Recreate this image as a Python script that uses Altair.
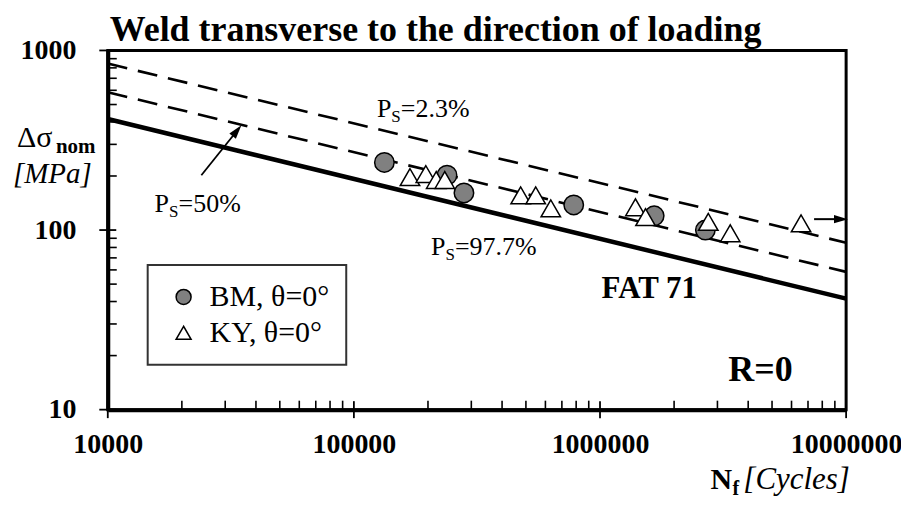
import altair as alt
import pandas as pd

FONT = "Liberation Serif"

# ---------------- data ----------------
series_names = ["BM, θ=0°", "KY, θ=0°"]
bm_n = [133000, 239000, 280000, 782000, 1660000, 2680000]
bm_s = [238, 202, 161, 138, 120, 100]
ky_n = [169000, 196000, 216000, 234000, 476000, 548000, 631000,
        1393000, 1531000, 2754000, 3381000, 6560000]
ky_s = [197, 205, 190, 190, 156, 156, 132, 134, 118, 111, 96, 109]

line_n = [10000, 10000000]
fat71_s = [415, 41.5]
ps50_s = [585, 58.5]
ps23_s = [845, 85]

x_major = [10000, 100000, 1000000, 10000000]
x_minor = [20000, 30000, 40000, 50000, 60000, 70000, 80000, 90000,
           200000, 300000, 400000, 500000, 600000, 700000, 800000, 900000,
           2000000, 3000000, 4000000, 5000000, 6000000, 7000000, 8000000, 9000000]
y_major = [10, 100, 1000]
y_minor = [20, 30, 40, 50, 60, 70, 80, 90, 200, 300, 400, 500, 600, 700, 800, 900]

ps_n = [124000, 15500, 205800]
ps_s = [425, 126, 72.6]
ps_text = ["=2.3%", "=50%", "=97.7%"]

fat_label_n = [1015000]
fat_label_s = [41.9]
fat_label = ["FAT 71"]
r_label_n = [3320000]
r_label_s = [14.5]
r_label = ["R=0"]

arrow50_n = [24000, 33500]
arrow50_s = [202, 357]
runout_n = [7410000, 9530000]
runout_s = [115, 115]

y_title_parts = ["Δσ", "nom", "[MPa]"]
x_title_parts = ["N", "f", "[Cycles]"]
title_text = "Weld transverse to the direction of loading"

# ---------------- scales ----------------
xs = alt.Scale(type="log", domain=[10000, 10000000])
ys = alt.Scale(type="log", domain=[10, 1000])


def X(f):
    return alt.X(f, type="quantitative", scale=xs)


def Y(f):
    return alt.Y(f, type="quantitative", scale=ys)


# ---------------- curves (carry the axes) ----------------
solid_df = pd.DataFrame({"N": line_n, "S": fat71_s})
dash_df = pd.DataFrame({
    "curve": ["Ps=50%"] * 2 + ["Ps=2.3%"] * 2,
    "N": line_n + line_n,
    "S": ps50_s + ps23_s,
})

solid = alt.Chart(solid_df).mark_line(color="black", strokeWidth=4.5).encode(
    x=alt.X("N", type="quantitative", scale=xs,
            axis=alt.Axis(values=x_major, format="d", title=None, ticks=False,
                          domain=True, domainWidth=4, domainColor="black", grid=False,
                          labelFont=FONT, labelFontSize=28, labelFontWeight="bold",
                          labelColor="black", labelPadding=21, labelFlush=False,
                          labelOverlap=False)),
    y=alt.Y("S", type="quantitative", scale=ys,
            axis=alt.Axis(values=y_major, format="d", title=None, ticks=False,
                          domain=True, domainWidth=4, domainColor="black", grid=False,
                          labelFont=FONT, labelFontSize=28, labelFontWeight="bold",
                          labelColor="black", labelPadding=32, labelFlush=False,
                          labelOverlap=False)),
)

dashed = alt.Chart(dash_df).mark_line(color="black", strokeWidth=2.6,
                                      strokeDash=[20, 11]).encode(
    x=X("N"), y=Y("S"), detail="curve:N")

# ---------------- points ----------------
pts_df = pd.DataFrame({
    "series": [series_names[0]] * len(bm_n) + [series_names[1]] * len(ky_n),
    "N": bm_n + ky_n,
    "S": bm_s + ky_s,
})
leg = alt.Legend(title=None, orient="none", legendX=40, legendY=215)
points = alt.Chart(pts_df).mark_point(filled=True, size=380,
                                      strokeWidth=1.5, opacity=1).encode(
    x=X("N"), y=Y("S"),
    fill=alt.Fill("series:N", scale=alt.Scale(domain=series_names,
                                              range=["#808080", "#ffffff"]), legend=leg),
    shape=alt.Shape("series:N", scale=alt.Scale(domain=series_names,
                                                range=["circle", "triangle-up"]), legend=leg),
    stroke=alt.Stroke("series:N", scale=alt.Scale(domain=series_names,
                                                  range=["#000000", "#000000"]), legend=leg),
)

# ---------------- ticks ----------------
xmin_df = pd.DataFrame({"N": x_minor})
xmaj_df = pd.DataFrame({"N": x_major})
ymin_df = pd.DataFrame({"S": y_minor})
ymaj_df = pd.DataFrame({"S": y_major})

xminor_t = alt.Chart(xmin_df).mark_tick(orient="vertical", size=9, thickness=1.6,
                                        color="black", opacity=1, yOffset=-4.5).encode(
    x=X("N"), y=alt.YDatum(10, type="quantitative", scale=ys))
xmajor_t = alt.Chart(xmaj_df).mark_tick(orient="vertical", size=17, thickness=1.8,
                                        color="black", opacity=1).encode(
    x=X("N"), y=alt.YDatum(10, type="quantitative", scale=ys))
yminor_t = alt.Chart(ymin_df).mark_tick(orient="horizontal", size=9, thickness=1.6,
                                        color="black", opacity=1, xOffset=4.5).encode(
    y=Y("S"), x=alt.XDatum(10000, type="quantitative", scale=xs))
ymajor_t = alt.Chart(ymaj_df).mark_tick(orient="horizontal", size=17, thickness=1.8,
                                        color="black", opacity=1).encode(
    y=Y("S"), x=alt.XDatum(10000, type="quantitative", scale=xs))

# ---------------- annotations ----------------
ps_df = pd.DataFrame({"N": ps_n, "S": ps_s, "t": ps_text})
ps_p = alt.Chart(ps_df).mark_text(text="P", align="left", baseline="alphabetic",
                                  font=FONT, fontSize=26, color="black").encode(
    x=X("N"), y=Y("S"))
ps_sub = alt.Chart(ps_df).mark_text(text="S", align="left", baseline="alphabetic",
                                    font=FONT, fontSize=17, color="black",
                                    dx=14.5, dy=5).encode(x=X("N"), y=Y("S"))
ps_rest = alt.Chart(ps_df).mark_text(align="left", baseline="alphabetic",
                                     font=FONT, fontSize=26, color="black",
                                     dx=24).encode(x=X("N"), y=Y("S"), text="t:N")

fat_df = pd.DataFrame({"N": fat_label_n, "S": fat_label_s, "t": fat_label})
fat_txt = alt.Chart(fat_df).mark_text(align="left", baseline="alphabetic", font=FONT,
                                      fontSize=31, fontWeight="bold", color="black").encode(
    x=X("N"), y=Y("S"), text="t:N")
r_df = pd.DataFrame({"N": r_label_n, "S": r_label_s, "t": r_label})
r_txt = alt.Chart(r_df).mark_text(align="left", baseline="alphabetic", font=FONT,
                                  fontSize=36, fontWeight="bold", color="black").encode(
    x=X("N"), y=Y("S"), text="t:N")

# arrows
a50_df = pd.DataFrame({"N": arrow50_n, "S": arrow50_s})
a50_line = alt.Chart(a50_df).mark_line(color="black", strokeWidth=1.8).encode(
    x=X("N"), y=Y("S"))
a50_head = alt.Chart(a50_df.iloc[[1]]).mark_point(
    shape="M-1,-0.6L1,0L-1,0.6Z", filled=True, color="black", opacity=1,
    size=196, angle=309).encode(x=X("N"), y=Y("S"))
ro_df = pd.DataFrame({"N": runout_n, "S": runout_s})
ro_line = alt.Chart(ro_df).mark_line(color="black", strokeWidth=2).encode(
    x=X("N"), y=Y("S"))
ro_head = alt.Chart(ro_df.iloc[[1]]).mark_point(
    shape="M-1,-0.6L1,0L-1,0.6Z", filled=True, color="black", opacity=1,
    size=196, angle=0).encode(x=X("N"), y=Y("S"))

# axis titles (outside plot, pixel placement)
yt_df = pd.DataFrame({"t": y_title_parts})
yt1 = alt.Chart(yt_df.iloc[[0]]).mark_text(align="left", baseline="alphabetic", font=FONT,
                                           fontSize=30, color="black").encode(
    x=alt.value(-91), y=alt.value(97), text="t:N")
yt2 = alt.Chart(yt_df.iloc[[1]]).mark_text(align="left", baseline="alphabetic", font=FONT,
                                           fontSize=21, fontWeight="bold", color="black").encode(
    x=alt.value(-52), y=alt.value(103), text="t:N")
yt3 = alt.Chart(yt_df.iloc[[2]]).mark_text(align="left", baseline="alphabetic", font=FONT,
                                           fontSize=29, fontStyle="italic", color="black").encode(
    x=alt.value(-95), y=alt.value(133), text="t:N")

xt_df = pd.DataFrame({"t": x_title_parts})
xt1 = alt.Chart(xt_df.iloc[[0]]).mark_text(align="left", baseline="alphabetic", font=FONT,
                                           fontSize=30, fontWeight="bold", color="black").encode(
    x=alt.value(604), y=alt.value(440), text="t:N")
xt2 = alt.Chart(xt_df.iloc[[1]]).mark_text(align="left", baseline="alphabetic", font=FONT,
                                           fontSize=20, fontWeight="bold", color="black").encode(
    x=alt.value(626), y=alt.value(446), text="t:N")
xt3 = alt.Chart(xt_df.iloc[[2]]).mark_text(align="left", baseline="alphabetic", font=FONT,
                                           fontSize=31, fontStyle="italic", color="black").encode(
    x=alt.value(637), y=alt.value(440), text="t:N")

chart = alt.layer(
    solid, dashed, xminor_t, xmajor_t, yminor_t, ymajor_t,
    a50_line, a50_head, ro_line, ro_head,
    points,
    ps_p, ps_sub, ps_rest, fat_txt, r_txt,
    yt1, yt2, yt3, xt1, xt2, xt3,
).properties(
    width=740, height=360,
    autosize=alt.AutoSizeParams(type="none"),
    padding={"left": 100, "top": 42, "right": 55, "bottom": 90},
    title=alt.TitleParams(title_text, anchor="start", frame="group", font=FONT,
                          fontSize=36, fontWeight="bold", color="black", offset=-13, dx=2),
).configure_view(
    stroke="black", strokeWidth=3
).configure_legend(
    fillColor="white", strokeColor="#333333", strokeWidth=2, padding=17,
    symbolSize=225, symbolStrokeWidth=1.5,
    symbolOffset=4, labelOffset=11, labelFont=FONT, labelFontSize=30,
    labelColor="black", rowPadding=6, labelLimit=400
)

chart.save("out.html", embed_options={"renderer": "svg", "actions": False})
